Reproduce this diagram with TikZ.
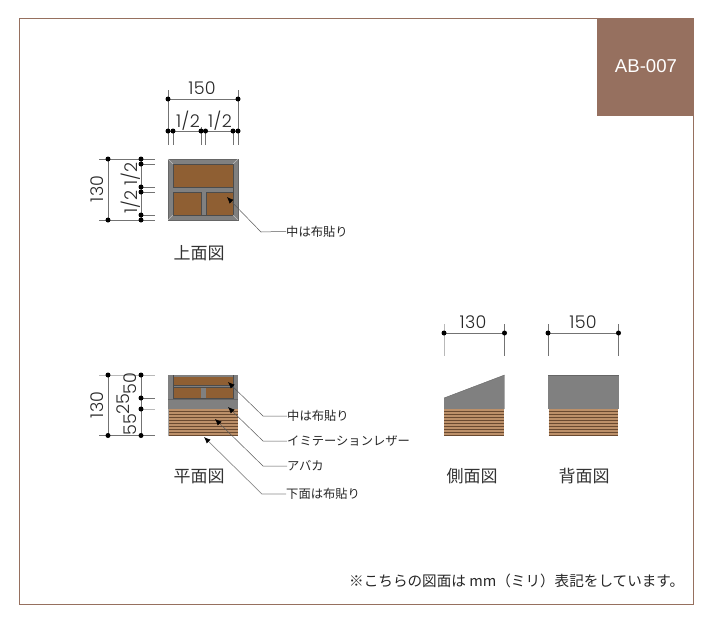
\documentclass[tikz,border=0pt]{standalone}
\usepackage{fontspec}
\setmainfont{Noto Sans CJK JP}
\newfontfamily\numfont[UprightFont=* Light, LetterSpace=2]{Poppins}
\newfontfamily\tagfont{Liberation Sans}
\usepackage{xcolor}
\usetikzlibrary{arrows.meta}
\definecolor{tagbrown}{HTML}{96705F}
\definecolor{wood}{HTML}{8F5F33}
\definecolor{stripe}{HTML}{BC9069}
\definecolor{stripeline}{HTML}{6A4A30}
\definecolor{panel}{HTML}{808080}
\tikzset{
  dim/.style = {draw=gray!90!black, line width=0.5pt},
  dimlight/.style = {draw=gray!55, line width=0.8pt},
  dimtext/.style = {font=\numfont\fontsize{17.5}{18}\selectfont, text=black!85, inner sep=0pt},
  viewtitle/.style = {font=\fontsize{17}{18}\selectfont, text=black!80, inner sep=0pt},
  notetext/.style = {font=\fontsize{12.3}{13}\selectfont, text=black!85, inner sep=0pt, anchor=west},
  leader/.style = {draw=black!65, line width=0.5pt, -{Latex[black, length=6.5pt, width=5.5pt]}},
  leadergray/.style = {draw=gray!90, line width=0.7pt, -{Latex[black, length=6.5pt, width=5.5pt]}},
}
\newcommand{\dimdot}[2]{\fill (#1,#2) circle (2.5);}
\newcommand{\woodstripes}[3]{
  \fill[stripe] (#1,409) rectangle (#2,#3);
  \foreach \yy in {411.5,414.5,...,#3}
    \draw[stripeline, line width=0.4pt] (#1,\yy) -- (#2,\yy);
}
\begin{document}
\begin{tikzpicture}[x=1pt, y=-1pt]
  \useasboundingbox (0,0) rectangle (712,622);
  \draw[tagbrown, line width=1pt] (19,18.5) rectangle (693,604);
  \fill[tagbrown] (597,18) rectangle (693.5,116);
  \node[font=\tagfont\fontsize{18.6}{19}\selectfont, text=white, inner sep=0pt] (tag) at (646,66) {AB-007};

  % top view
  \fill[panel] (168,159) rectangle (238,220);
  \draw[black!60] (168,159) rectangle (238,220);
  \fill[wood] (173,164) rectangle (233,215);
  \draw[black!70] (173,164) rectangle (233,215);
  \fill[panel] (173,187) rectangle (233,192);
  \fill[panel] (201,192) rectangle (206,215);
  \draw[black!70] (173,187) -- (233,187) (173,192) -- (201,192) -- (201,215) (233,192) -- (206,192) -- (206,215);
  \draw[gray!50] (168,159) -- (173,164) (238,159) -- (233,164) (168,220) -- (173,215) (238,220) -- (233,215);

  \draw[dim] (168,90) -- (168,145) (238,90) -- (238,145) (168,99) -- (238,99) (168,131) -- (238,131);
  \draw[dim] (173,131) -- (173,145) (201,127) -- (201,145) (205.5,131) -- (205.5,145) (233,131) -- (233,145);
  \foreach \xx in {168,238} {\dimdot{\xx}{99}}
  \foreach \xx in {168,173,201,205.5,233,238} {\dimdot{\xx}{131}}
  \node[dimtext] (topwidth) at (202,88) {150};
  \node[dimtext] (tophalfa) at (188,121) {1/2};
  \node[dimtext] (tophalfb) at (220,121) {1/2};

  \draw[dim] (99,159) -- (155,159) (99,220) -- (155,220) (108,159) -- (108,220) (141,159) -- (141,220);
  \draw[dim] (141,164) -- (155,164) (141,187) -- (155,187) (141,192) -- (155,192) (141,215) -- (155,215);
  \foreach \yy in {159,220} {\dimdot{108}{\yy}}
  \foreach \yy in {159,164,187,192,215,220} {\dimdot{141}{\yy}}
  \node[dimtext, rotate=90] (topdepth) at (97,189) {130};
  \node[dimtext, rotate=90] (sidehalfa) at (131,174) {1/2};
  \node[dimtext, rotate=90] (sidehalfb) at (131,202) {1/2};

  \node[viewtitle] (toptitle) at (199,253) {上面図};
  \node[notetext] (topnote) at (286,231.5) {中は布貼り};
  \coordinate (topbend) at (261,232);
  \coordinate (toptip) at (227,197);
  \draw[leader] (topnote.west) -- ++(-6,0) -- (topbend) -- (toptip);

  % plan view
  \fill[panel] (168,375) rectangle (238,410);
  \fill[wood] (173,377) rectangle (233,398);
  \fill[panel] (201,387) rectangle (206,398);
  \fill[panel] (173,385) rectangle (233,387);
  \draw[black!70] (173,375) -- (173,398) -- (233,398) -- (233,375) (173,385) -- (233,385) (173,387) -- (233,387);
  \draw[black!60] (168,399) -- (238,399);
  \woodstripes{168}{238}{436}
  \draw[gray!70, line width=0.8pt] (168,409) -- (168,435.5);

  \draw[dimlight] (99,375) -- (155,375) (141,409) -- (155,409);
  \draw[dim] (99,435.5) -- (155,435.5) (108,375) -- (108,435.5) (141,375) -- (141,435.5) (141,398) -- (155,398);
  \foreach \yy in {375,435.5} {\dimdot{108}{\yy}}
  \foreach \yy in {375,398,409,435.5} {\dimdot{141}{\yy}}
  \node[dimtext, rotate=90] (plandepth) at (97,405) {130};
  \node[dimtext, rotate=90] (planfifty) at (130,384) {50};
  \node[dimtext, rotate=90] (plantwentyfive) at (123,404) {25};
  \node[dimtext, rotate=90] (planfiftyfive) at (130,425) {55};

  \node[viewtitle] (plantitle) at (199,476) {平面図};
  \node[notetext] (plannotea) at (287,416) {中は布貼り};
  \node[notetext] (planoteb) at (287,441) {イミテーションレザー};
  \node[notetext] (planotec) at (287,466) {アバカ};
  \node[notetext] (planoted) at (286,494) {下面は布貼り};
  \coordinate (bendA) at (263,416);
  \coordinate (bendB) at (263,441);
  \coordinate (bendC) at (263,466);
  \coordinate (bendD) at (262,494);
  \coordinate (tipA) at (228,382);
  \coordinate (tipB) at (228,407);
  \coordinate (tipC) at (215,419);
  \coordinate (tipD) at (204,437);
  \draw[leader] (plannotea.west) -- ++(-4,0) -- (bendA) -- (tipA);
  \draw[leader] (planoteb.west) -- ++(-4,0) -- (bendB) -- (tipB);
  \draw[leader] (planotec.west) -- ++(-4,0) -- (bendC) -- (tipC);
  \draw[leadergray] (planoted.west) -- ++(-4,0) -- (bendD) -- (tipD);

  % side view
  \fill[panel] (444,398) -- (504.5,375) -- (504.5,409) -- (444,409) -- cycle;
  \draw[black!60] (444,398) -- (504.5,375);
  \woodstripes{444}{503.5}{436}
  \draw[dimlight] (444,324) -- (444,356);
  \draw[dim] (504.5,324) -- (504.5,356) (444,333) -- (504.5,333);
  \dimdot{444}{333}
  \dimdot{504.5}{333}
  \node[dimtext] (sidewidth) at (473,322) {130};
  \node[viewtitle] (sidetitle) at (472,476) {側面図};

  % back view
  \fill[panel] (548,375) rectangle (618.5,409);
  \draw[black!60] (548,375) -- (618.5,375);
  \woodstripes{548.5}{617.5}{436}
  \draw[dim] (548,324) -- (548,356) (618.5,324) -- (618.5,356) (548,333) -- (618.5,333);
  \dimdot{548}{333}
  \dimdot{618.5}{333}
  \node[dimtext] (backwidth) at (583,322) {150};
  \node[viewtitle] (backtitle) at (584,476) {背面図};

  \node[font=\fontsize{14.6}{15}\selectfont, text=black!85, inner sep=0pt, anchor=west] (unitnote) at (349,581) {※こちらの図面は mm（ミリ）表記をしています。};
\end{tikzpicture}
\end{document}
